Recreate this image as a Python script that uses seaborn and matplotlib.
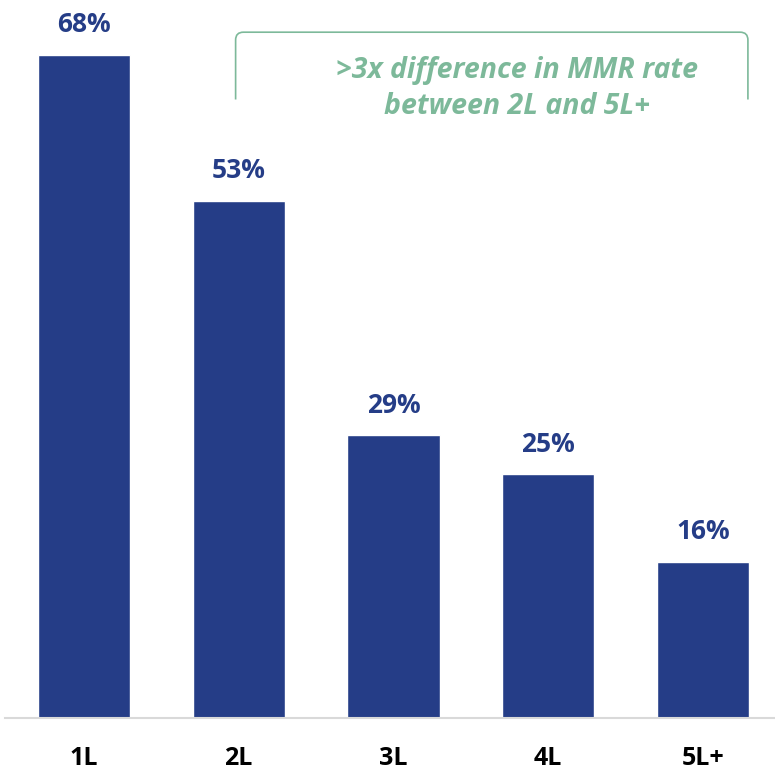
import matplotlib
matplotlib.use("Agg")
import matplotlib.pyplot as plt
from matplotlib.path import Path
from matplotlib.patches import PathPatch
import seaborn as sns
import pandas as pd

lines = ["1L", "2L", "3L", "4L", "5L+"]
mmr_rate = [68, 53, 29, 25, 16]
note_text = ">3x difference in MMR rate\nbetween 2L and 5L+"

bar_color = "#253D87"
note_color = "#7DB99A"

sns.set_theme(style="white")
plt.rcParams["font.family"] = ["Open Sans", "DejaVu Sans"]

df = pd.DataFrame({"line": lines, "rate": mmr_rate})

W, H = 775, 771
fig = plt.figure(figsize=(W / 100, H / 100), dpi=100)
ax = fig.add_axes([5 / W, (H - 718) / H, 770 / W, 718 / H])

sns.barplot(data=df, x="line", y="rate", color=bar_color, saturation=1,
            width=0.595, ax=ax)

ax.set_xlim(-0.51, 4.465)
ax.set_ylim(0, 73.6)
ax.set_xlabel("")
ax.set_ylabel("")
ax.set_yticks([])
for side in ["top", "left", "right"]:
    ax.spines[side].set_visible(False)
ax.spines["bottom"].set_color("#D9D9D9")
ax.spines["bottom"].set_linewidth(1.5)
ax.tick_params(axis="x", length=0, pad=20)
for lab in ax.get_xticklabels():
    lab.set_fontsize(18)
    lab.set_fontweight("bold")
    lab.set_color("black")

for i, v in enumerate(mmr_rate):
    ax.text(i, v + 1.7, f"{v}%", ha="center", va="bottom",
            fontsize=19, fontweight="bold", color=bar_color)

# bracket spanning 2L..5L+ with rounded corners
x0, x1 = 0.98, 4.29
y_low, y_top = 63.4, 70.3
r_x, r_y = 0.05, 0.8
verts = [(x0, y_low), (x0, y_top - r_y), (x0, y_top), (x0 + r_x, y_top),
         (x1 - r_x, y_top), (x1, y_top), (x1, y_top - r_y), (x1, y_low)]
codes = [Path.MOVETO, Path.LINETO, Path.CURVE3, Path.CURVE3,
         Path.LINETO, Path.CURVE3, Path.CURVE3, Path.LINETO]
ax.add_patch(PathPatch(Path(verts, codes), fill=False, edgecolor=note_color,
                       linewidth=1.2, clip_on=False))

ax.text(2.8, 64.5, note_text, ha="center", va="center", fontsize=20.5,
        fontweight="bold", fontstyle="italic", color=note_color,
        linespacing=1.3)

fig.savefig("out.png", dpi=100)
